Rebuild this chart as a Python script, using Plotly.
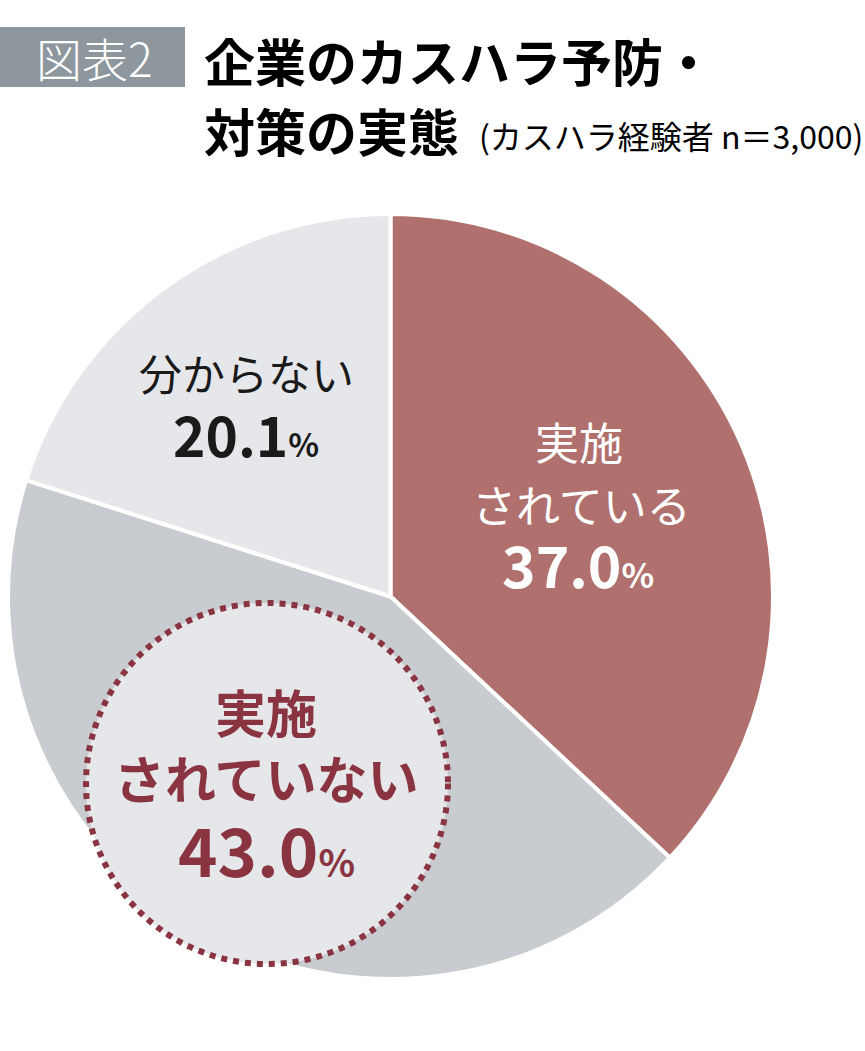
import plotly.graph_objects as go

# data
labels = ["実施されている", "実施されていない", "分からない"]
values = [37.0, 43.0, 20.1]
n_respondents = 3000

colors = ["#b0706e", "#c8cbd0", "#e6e7ea"]
font_jp = "Noto Sans CJK JP"
W, H = 865, 1051


def px(x):
    return x / W


def py(y):
    return 1 - y / H


fig = go.Figure()
fig.add_trace(go.Pie(
    labels=labels,
    values=values,
    sort=False,
    direction="clockwise",
    rotation=0,
    marker=dict(colors=colors, line=dict(color="white", width=4)),
    textinfo="none",
    hoverinfo="label+percent",
    showlegend=False,
    domain=dict(x=[px(8), px(773)], y=[py(979), py(214)]),
))

shapes = [
    # title badge
    dict(type="rect", xref="paper", yref="paper",
         x0=0, x1=px(185), y0=py(87), y1=py(27),
         fillcolor="#8e979e", line=dict(width=0), layer="above"),
    # dashed highlight circle
    dict(type="circle", xref="paper", yref="paper",
         x0=px(86), x1=px(448), y0=py(964), y1=py(603),
         fillcolor="#e6e7ea",
         line=dict(color="#8a3441", width=6, dash="dot"),
         layer="above"),
]


def ann(x, y, text, size, color, weight="normal", xanchor="center"):
    return dict(x=px(x), y=py(y), xref="paper", yref="paper",
                text=text, showarrow=False, xanchor=xanchor, yanchor="middle",
                font=dict(family=font_jp, size=size, color=color, weight=weight))


def pct(v, pct_size):
    return f"{v:.1f}<span style='font-size:{pct_size}px'>%</span>"


annotations = [
    ann(94, 57, "図表2", 46, "white", 300),
    ann(202, 60, "企業のカスハラ予防・", 51, "black", "bold", "left"),
    ann(202, 130, "対策の実態", 51, "black", "bold", "left"),
    ann(477, 135, f"(カスハラ経験者 n＝{n_respondents:,})", 32, "black", "normal", "left"),
    # 実施されている
    ann(579, 441, labels[0][:2], 44, "white"),
    ann(581, 504, labels[0][2:], 44, "white"),
    ann(578, 563, pct(values[0], 34), 57, "white", "bold"),
    # 分からない
    ann(246, 372, labels[2], 43, "#1a1a1a"),
    ann(246, 433, pct(values[2], 32), 55, "#1a1a1a", "bold"),
    # 実施されていない
    ann(266, 711, labels[1][:2], 51, "#8a3441", "bold"),
    ann(266, 777, labels[1][2:], 51, "#8a3441", "bold"),
    ann(266, 847, pct(values[1], 38), 67, "#8a3441", "bold"),
]

fig.update_layout(
    width=W, height=H,
    margin=dict(l=0, r=0, t=0, b=0),
    paper_bgcolor="white",
    plot_bgcolor="white",
    shapes=shapes,
    annotations=annotations,
    font=dict(family=font_jp),
)

fig.write_html("out.html", config={"displayModeBar": False},
               post_script="document.body.style.margin='0';")
